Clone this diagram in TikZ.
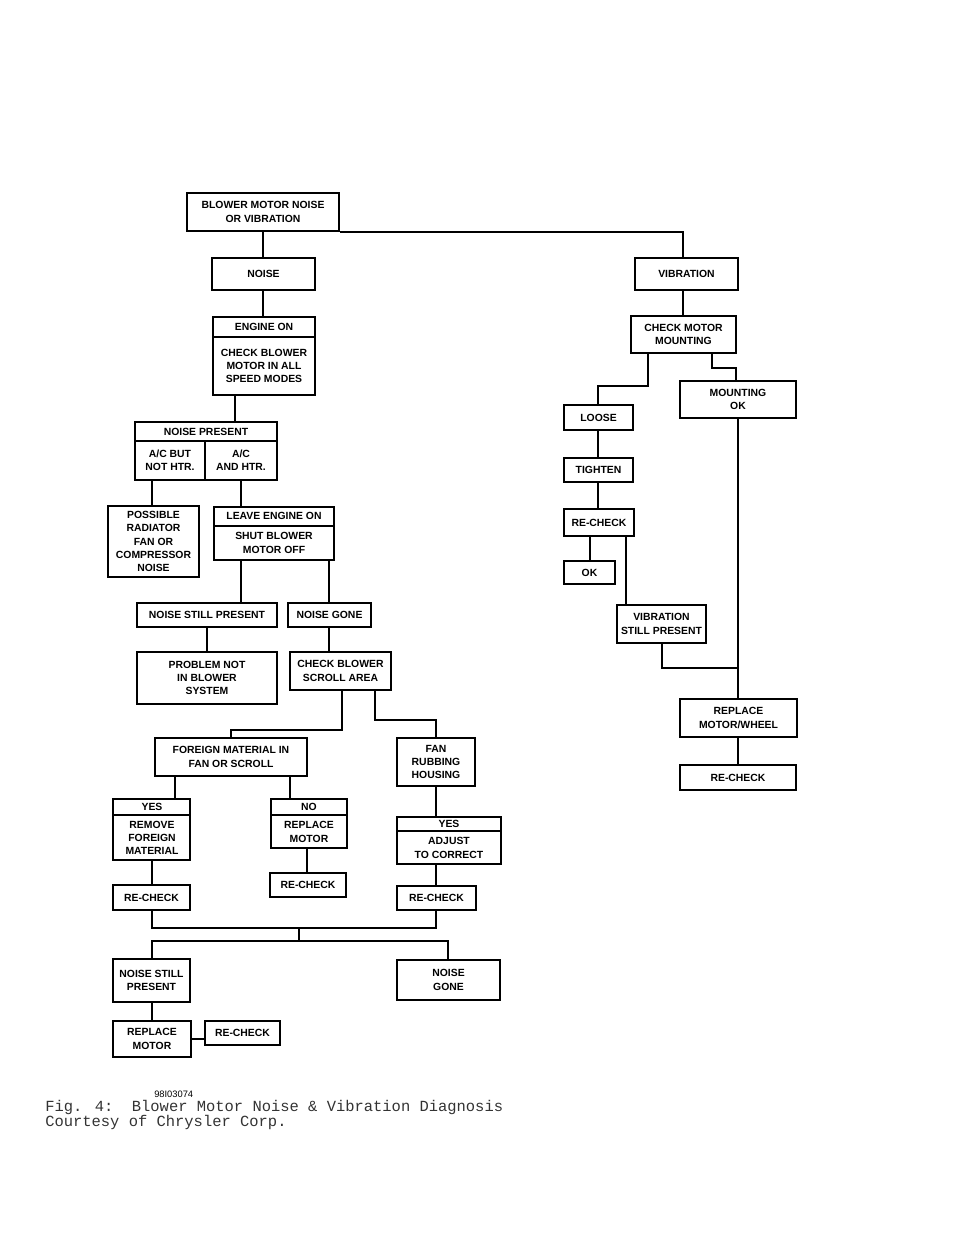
\documentclass[tikz,border=0pt]{standalone}
\usepackage{fontspec}
\setmainfont{Liberation Sans}
\newfontfamily\capfont{Liberation Mono}
\begin{document}
\begin{tikzpicture}[x=0.75pt,y=-0.75pt,
  box/.style={draw,line width=1.2pt,inner sep=0pt,align=center,font=\fontsize{7.8}{10}\selectfont\bfseries},
  ln/.style={line width=1.5pt}]
\newcommand\bx[6]{\node[box,minimum width={(#4-#2)*0.75pt},minimum height={(#5-#3)*0.75pt}] (#1) at ({(#2+#4)/2},{(#3+#5)/2}) {#6};}
\useasboundingbox (0,0) rectangle (960,1242);
\bx{top}{187}{193}{339}{231}{BLOWER MOTOR NOISE\\OR VIBRATION}
\bx{noise}{212}{258}{315}{290}{NOISE}
\bx{eng}{213}{317}{315}{395}{}
\node[box,draw=none] at (264,327) {ENGINE ON};
\node[box,draw=none] at (264,366) {CHECK BLOWER\\MOTOR IN ALL\\SPEED MODES};
\draw[line width=1.2pt] (213,337) -- (315,337);
\bx{np}{135}{422}{277}{480}{}
\node[box,draw=none] at (206,432) {NOISE PRESENT};
\node[box,draw=none] at (170,460) {A/C BUT\\NOT HTR.};
\node[box,draw=none] at (241,460) {A/C\\AND HTR.};
\draw[line width=1.2pt] (135,441) -- (277,441) (205,441) -- (205,480);
\bx{poss}{108}{506}{199}{577}{POSSIBLE\\RADIATOR\\FAN OR\\COMPRESSOR\\NOISE}
\bx{leave}{214}{507}{334}{560}{}
\node[box,draw=none] at (274,516) {LEAVE ENGINE ON};
\node[box,draw=none] at (274,543) {SHUT BLOWER\\MOTOR OFF};
\draw[line width=1.2pt] (214,526) -- (334,526);
\bx{nsp}{137}{603}{277}{627}{NOISE STILL PRESENT}
\bx{ng}{288}{603}{371}{627}{NOISE GONE}
\bx{prob}{137}{652}{277}{704}{PROBLEM NOT\\IN BLOWER\\SYSTEM}
\bx{scroll}{290}{652}{391}{690}{CHECK BLOWER\\SCROLL AREA}
\bx{fm}{155}{738}{307}{776}{FOREIGN MATERIAL IN\\FAN OR SCROLL}
\bx{fan}{397}{738}{475}{786}{FAN\\RUBBING\\HOUSING}
\bx{yr}{113}{799}{190}{860}{}
\node[box,draw=none] at (152,807) {YES};
\node[box,draw=none] at (152,838) {REMOVE\\FOREIGN\\MATERIAL};
\draw[line width=1.2pt] (113,815) -- (190,815);
\bx{no}{271}{799}{347}{848}{}
\node[box,draw=none] at (309,807) {NO};
\node[box,draw=none] at (309,832) {REPLACE\\MOTOR};
\draw[line width=1.2pt] (271,815) -- (347,815);
\bx{ya}{397}{817}{501}{864}{}
\node[box,draw=none] at (449,824) {YES};
\node[box,draw=none] at (449,848) {ADJUST\\TO CORRECT};
\draw[line width=1.2pt] (397,831) -- (501,831);
\bx{rcl}{113}{885}{190}{910}{RE-CHECK}
\bx{rcm}{270}{873}{346}{897}{RE-CHECK}
\bx{rcr}{397}{886}{476}{910}{RE-CHECK}
\bx{nsp2}{113}{959}{190}{1002}{NOISE STILL\\PRESENT}
\bx{ng2}{397}{960}{500}{1000}{NOISE\\GONE}
\bx{rm}{113}{1021}{191}{1057}{REPLACE\\MOTOR}
\bx{rc5}{205}{1021}{280}{1045}{RE-CHECK}
% right
\bx{vib}{635}{258}{738}{290}{VIBRATION}
\bx{cmm}{631}{316}{736}{353}{CHECK MOTOR\\MOUNTING}
\bx{mok}{680}{381}{796}{418}{MOUNTING\\OK}
\bx{loose}{564}{405}{633}{430}{LOOSE}
\bx{tight}{564}{458}{633}{482}{TIGHTEN}
\bx{rc6}{564}{509}{634}{536}{RE-CHECK}
\bx{ok}{564}{561}{615}{584}{OK}
\bx{vsp}{617}{605}{706}{643}{VIBRATION\\STILL PRESENT}
\bx{rmw}{680}{699}{797}{737}{REPLACE\\MOTOR/WHEEL}
\bx{rc7}{680}{765}{796}{790}{RE-CHECK}
% connectors
\begin{scope}[ln]
\draw (263,0 |- top.south) -- (263,0 |- noise.north);
\draw (top.south east) -| (683,0 |- vib.north);
\draw (263,0 |- noise.south) -- (263,0 |- eng.north);
\draw (235,0 |- eng.south) -- (235,0 |- np.north);
\draw (152,0 |- np.south) -- (152,0 |- poss.north);
\draw (241,0 |- np.south) -- (241,0 |- leave.north);
\draw (241,0 |- leave.south) -- (241,0 |- nsp.north);
\draw (329,0 |- leave.south) -- (329,0 |- ng.north);
\draw (207,0 |- nsp.south) -- (207,0 |- prob.north);
\draw (329,0 |- ng.south) -- (329,0 |- scroll.north);
\draw (342,0 |- scroll.south) |- (231,730) -- (231,0 |- fm.north);
\draw (375,0 |- scroll.south) |- (436,720) -- (436,0 |- fan.north);
\draw (175,0 |- fm.south) -- (175,0 |- yr.north);
\draw (290,0 |- fm.south) -- (290,0 |- no.north);
\draw (436,0 |- fan.south) -- (436,0 |- ya.north);
\draw (152,0 |- yr.south) -- (152,0 |- rcl.north);
\draw (307,0 |- no.south) -- (307,0 |- rcm.north);
\draw (436,0 |- ya.south) -- (436,0 |- rcr.north);
\draw (152,0 |- rcl.south) |- (436,928) -- (436,0 |- rcr.south);
\draw (299,928) -- (299,941);
\draw (152,0 |- nsp2.north) |- (448,941) -- (448,0 |- ng2.north);
\draw (152,0 |- nsp2.south) -- (152,0 |- rm.north);
\draw (rm.east) -- (rm.east -| rc5.west);
\draw (683,0 |- vib.south) -- (683,0 |- cmm.north);
\draw (648,0 |- cmm.south) |- (598,386) -- (598,0 |- loose.north);
\draw (712,0 |- cmm.south) |- (736,368) -- (736,0 |- mok.north);
\draw (598,0 |- loose.south) -- (598,0 |- tight.north);
\draw (598,0 |- tight.south) -- (598,0 |- rc6.north);
\draw (590,0 |- rc6.south) -- (590,0 |- ok.north);
\draw (626,0 |- rc6.south) -- (626,0 |- vsp.north);
\draw (662,0 |- vsp.south) |- (738,668);
\draw (738,0 |- mok.south) -- (738,0 |- rmw.north);
\draw (738,0 |- rmw.south) -- (738,0 |- rc7.north);
\end{scope}
\node[font=\fontsize{7}{8}\selectfont,anchor=west,inner sep=0pt] (code) at (154,1094) {98I03074};
\node[font=\capfont\fontsize{11.6}{11.6}\selectfont,anchor=north west,align=left,inner sep=0pt,text=black!80] (cap) at (45,1100) {Fig. 4:\ \ Blower Motor Noise \& Vibration Diagnosis\\Courtesy of Chrysler Corp.};
\end{tikzpicture}
\end{document}
